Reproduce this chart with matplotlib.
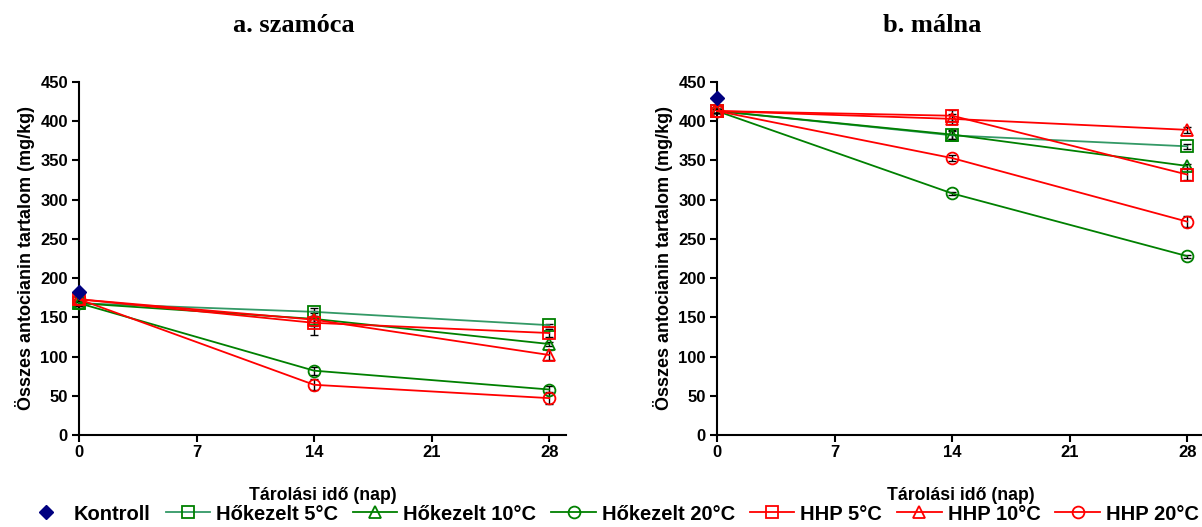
import numpy as np
import matplotlib.pyplot as plt

plt.rcParams['font.family'] = ['Liberation Sans', 'DejaVu Sans']
plt.rcParams['font.weight'] = 'bold'

days = [0, 14, 28]
labels = ['Hőkezelt 5°C', 'Hőkezelt 10°C', 'Hőkezelt 20°C', 'HHP 5°C', 'HHP 10°C', 'HHP 20°C']
markers = ['s', '^', 'o', 's', '^', 'o']
line_colors = ['#339966', '#008000', '#008000', '#ff0000', '#ff0000', '#ff0000']
edge_colors = ['#008000', '#008000', '#008000', '#ff0000', '#ff0000', '#ff0000']

# szamóca (strawberry)
kontroll_a = 182
mean_a = [[168, 157, 140], [168, 148, 116], [168, 82, 58],
          [173, 143, 130], [173, 147, 102], [173, 64, 47]]
sd_a = [[3, 5, 2], [3, 4, 3], [3, 5, 5],
        [3, 15, 5], [3, 8, 6], [3, 7, 8]]

# málna (raspberry)
kontroll_b = 430
mean_b = [[413, 382, 368], [413, 383, 343], [413, 308, 228],
          [413, 407, 332], [413, 403, 389], [413, 353, 272]]
sd_b = [[3, 5, 3], [3, 6, 3], [3, 2, 2],
        [3, 7, 7], [3, 6, 4], [3, 4, 7]]

fig = plt.figure(figsize=(12.02, 5.27), dpi=100)
ax1 = fig.add_axes([79/1202, 1-435/527, 487/1202, 353/527])
ax2 = fig.add_axes([717/1202, 1-435/527, 487/1202, 353/527])


def draw(ax, kontroll, means, sds, title):
    ax.plot([0], [kontroll], 'D', color='#000080', ms=7.5, label='Kontroll',
            clip_on=False, zorder=5)
    for m, s, lab, mk, lc, ec in zip(means, sds, labels, markers, line_colors, edge_colors):
        ax.errorbar(days, m, yerr=s, fmt='none', ecolor='black', elinewidth=1,
                    capsize=3, capthick=1, zorder=3, clip_on=False)
        ax.plot(days, m, color=lc, lw=1.3, marker=mk, ms=8.5, mfc='none',
                mec=ec, mew=1.3, label=lab, clip_on=False, zorder=4)
    ax.set_xlim(0, 29)
    ax.set_ylim(0, 450)
    ax.set_xticks([0, 7, 14, 21, 28])
    ax.set_yticks(np.arange(0, 451, 50))
    for sp in ['top', 'right']:
        ax.spines[sp].set_visible(False)
    for sp in ['left', 'bottom']:
        ax.spines[sp].set_linewidth(1.5)
    ax.tick_params(width=1.5, length=5, labelsize=12)
    ax.tick_params(axis='x', pad=2)
    ax.tick_params(axis='y', pad=3)
    ax.set_xlabel('Tárolási idő (nap)', fontsize=12.7, fontweight='bold', labelpad=20)
    ax.set_ylabel('Összes antocianin tartalom (mg/kg)', fontsize=13,
                  fontweight='bold', labelpad=4)
    ax.set_title(title, fontsize=19, fontweight='bold', x=0.441,
                 family=['Liberation Serif', 'DejaVu Serif'], pad=36)


draw(ax1, kontroll_a, mean_a, sd_a, 'a. szamóca')
draw(ax2, kontroll_b, mean_b, sd_b, 'b. málna')

handles, labs = ax1.get_legend_handles_labels()
fig.legend(handles, labs, loc='center', bbox_to_anchor=(611/1202, 1-514/527),
           ncol=7, frameon=False, fontsize=14.5, handlelength=2.2,
           handletextpad=0.3, columnspacing=0.75, borderpad=0)

fig.savefig('out.png', dpi=100)
